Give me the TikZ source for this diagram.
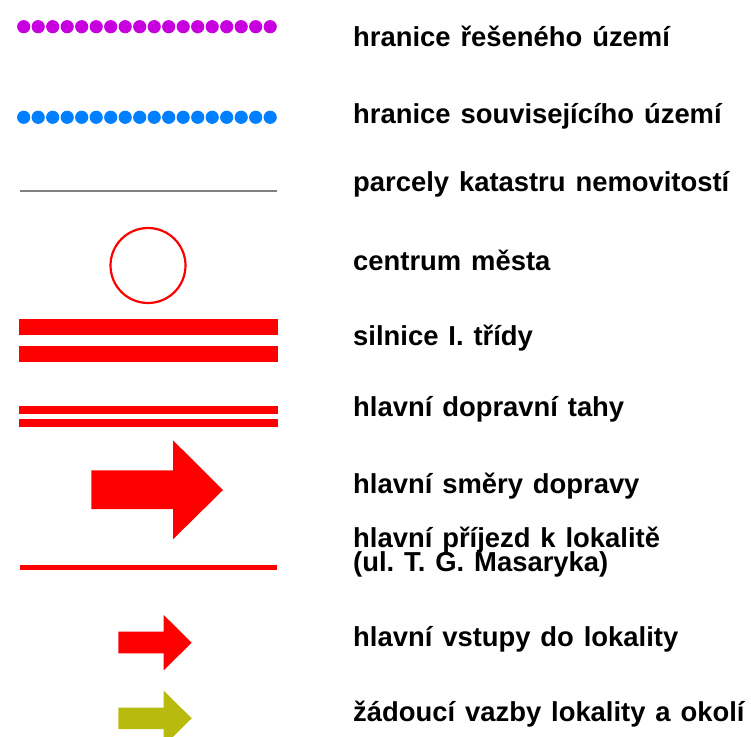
\documentclass[tikz,border=0pt]{standalone}
\usepackage{fontspec}
\setmainfont{Liberation Sans}[WordSpace=1.3]
\frenchspacing
\definecolor{cpurple}{HTML}{C800E0}
\definecolor{cblue}{HTML}{0080FF}
\definecolor{cred}{HTML}{FF0000}
\definecolor{colive}{HTML}{B8BB0E}
\definecolor{cgray}{HTML}{808080}
\begin{document}
\begin{tikzpicture}[x=1pt,y=-1pt,
  lbl/.style={anchor=base west,inner sep=0pt,font=\fontsize{27.4}{23.3}\selectfont\bfseries},
  bar/.style={fill=cred,draw=none}]
\useasboundingbox (0,0) rectangle (751,736);
\clip (0,0) rectangle (751,736);
% dotted borders
\foreach \i in {0,...,17} {
  \fill[cpurple] (23.7+14.5*\i,26.7) circle (6.6);
  \fill[cblue] (23.7+14.5*\i,117.3) circle (6.6);
}
% cadastral line
\draw[cgray,line width=1.2pt] (20,191) -- (277,191);
% city centre
\draw[cred,line width=2.2pt] (148,265.5) circle (37.5);
% road class I
\fill[bar] (19,319) rectangle (277.5,335);
\fill[bar] (19,346) rectangle (277.5,362.3);
% main traffic routes
\fill[bar] (19,406) rectangle (277.5,414);
\fill[bar] (19,418.7) rectangle (277.5,426.7);
% big arrow
\fill[cred] (91.3,470.3) -- (173,470.3) -- (173,440.3) -- (223,490) -- (173,539.3) -- (173,509) -- (91.3,509) -- cycle;
% access line
\fill[bar] (19.5,565) rectangle (277,570);
% small red arrow
\fill[cred] (118.3,631.7) -- (163.7,631.7) -- (163.7,615) -- (191.7,642.7) -- (163.7,670.3) -- (163.7,653.3) -- (118.3,653.3) -- cycle;
% olive arrow
\fill[colive] (118.3,707.7) -- (163.7,707.7) -- (163.7,690.7) -- (191.7,718.3) -- (163.7,746) -- (163.7,729) -- (118.3,729) -- cycle;
% labels
\node[lbl] (t1) at (353,46.7) {hranice řešeného území};
\node[lbl] (t2) at (353,123) {hranice souvisejícího území};
\node[lbl] (t3) at (353,191.7) {parcely katastru nemovitostí};
\node[lbl] (t4) at (353,270) {centrum města};
\node[lbl] (t5) at (353,345) {silnice I. třídy};
\node[lbl] (t6) at (353,416.7) {hlavní dopravní tahy};
\node[lbl] (t7) at (353,493) {hlavní směry dopravy};
\node[lbl] (t8) at (353,547) {hlavní příjezd k lokalitě};
\node[lbl] (t8b) at (353,571.5) {(ul. T. G. Masaryka)};
\node[lbl] (t9) at (353,646.7) {hlavní vstupy do lokality};
\node[lbl] (t10) at (353,721.7) {žádoucí vazby lokality a okolí};
\end{tikzpicture}
\end{document}
